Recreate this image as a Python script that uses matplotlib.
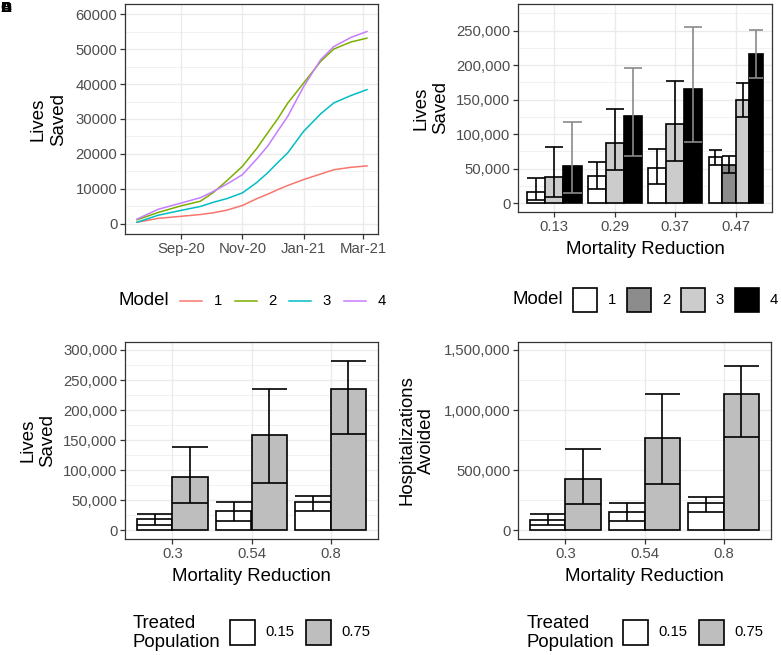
import numpy as np
import matplotlib
matplotlib.use("Agg")
import matplotlib.pyplot as plt
import matplotlib.dates as mdates
from matplotlib.ticker import MultipleLocator, FuncFormatter
from matplotlib.patches import Rectangle
from matplotlib.lines import Line2D

plt.rcParams['font.family'] = ['Liberation Sans', 'DejaVu Sans']

# ---- data ----
# panel A: cumulative lives saved over time
dates = np.array(['2020-07-19', '2020-08-09', '2020-09-01', '2020-09-20', '2020-10-03',
                  '2020-10-17', '2020-11-01', '2020-11-15', '2020-11-26', '2020-12-06',
                  '2020-12-16', '2021-01-01', '2021-01-18', '2021-01-31', '2021-02-17',
                  '2021-03-05'], dtype='datetime64[D]')
model1 = [500, 1600, 2200, 2700, 3200, 4000, 5300, 7200, 8500, 9800, 11000, 12700, 14300, 15500, 16200, 16600]
model2 = [1200, 3300, 5200, 6500, 9000, 12500, 16500, 21500, 26000, 30000, 34500, 40300, 46500, 50000, 52000, 53100]
model3 = [500, 2500, 3900, 5000, 6200, 7300, 8900, 11800, 14600, 17500, 20300, 26500, 31500, 34600, 36700, 38400]
model4 = [1400, 4200, 6000, 7500, 9300, 11500, 14100, 18500, 22200, 26500, 30700, 39300, 47000, 50700, 53300, 55000]
models = ['1', '2', '3', '4']
line_colors = ['#F8766D', '#7CAE00', '#00BFC4', '#C77CFF']

# panel B: lives saved by model and mortality reduction (None = not estimated)
mr_b = ['0.13', '0.29', '0.37', '0.47']
b_val = {'1': [16400, 38700, 50300, 66300],
         '2': [None, None, None, 55600],
         '3': [37700, 87000, 114100, 149400],
         '4': [54200, 126200, 165900, 216700]}
b_lo = {'1': [3900, 20800, 27100, 54600],
        '2': [None, None, None, 43000],
        '3': [8200, 47900, 60900, 125200],
        '4': [14000, 68700, 88500, 181800]}
b_hi = {'1': [36300, 60000, 78800, 77400],
        '2': [None, None, None, 68700],
        '3': [81700, 135900, 177000, 174600],
        '4': [118000, 196300, 255800, 251000]}
model_fill = ['white', '#8C8C8C', '#CCCCCC', 'black']
model_err = ['black', 'black', 'black', '#8A8A8A']

# panels C and D: by treated population share
mr_cd = ['0.3', '0.54', '0.8']
treated = ['0.15', '0.75']
lives_val = [[18300, 31600, 46600], [88700, 158600, 234600]]
lives_lo = [[8900, 15500, 32200], [44900, 79300, 159700]]
lives_hi = [[27700, 47100, 57100], [138600, 234600, 282200]]
hosp_val = [[83200, 152500, 227400], [429800, 768100, 1136900]]
hosp_lo = [[44400, 77600, 155300], [219100, 382700, 776400]]
hosp_hi = [[135900, 224600, 277300], [673800, 1136900, 1367100]]
treated_fill = ['white', '#BEBEBE']

W, H = 781, 655
TICK = 10.7
TITLE = 13.4

fig = plt.figure(figsize=(W / 100, H / 100), dpi=100)


def add_ax(l, t, r, b):
    return fig.add_axes([l / W, 1 - b / H, (r - l) / W, (b - t) / H])


def style(ax, ymajor, yminor, comma=True):
    for s in ax.spines.values():
        s.set_color('#333333')
        s.set_linewidth(0.9)
    ax.yaxis.set_major_locator(MultipleLocator(ymajor))
    ax.yaxis.set_minor_locator(MultipleLocator(yminor))
    if comma:
        ax.yaxis.set_major_formatter(FuncFormatter(lambda v, p: f'{v:,.0f}'))
    ax.grid(True, which='major', color='#EBEBEB', linewidth=1.0)
    ax.grid(True, which='minor', axis='y', color='#EBEBEB', linewidth=0.5)
    ax.tick_params(which='major', color='#333333', length=3.5, width=0.9,
                   labelcolor='#4D4D4D', labelsize=TICK, pad=2)
    ax.tick_params(which='minor', length=0)
    ax.set_axisbelow(True)


def ylab(ax, text, x):
    ax.set_ylabel(text, fontsize=TITLE, multialignment='center')
    ax.yaxis.label.set_linespacing(1.22)
    ax.yaxis.set_label_coords(x, 0.5)


def xlab(ax, text, y):
    ax.set_xlabel(text, fontsize=TITLE)
    ax.xaxis.set_label_coords(0.5, y)


def err(ax, x, w, lo, hi, color):
    ax.vlines(x, lo, hi, color=color, linewidth=1.2, zorder=4)
    ax.hlines([lo, hi], x - w / 2, x + w / 2, color=color, linewidth=1.2, zorder=4)


# ---- panel A ----
axA = add_ax(125, 4, 378, 234)
style(axA, 10000, 5000, comma=False)
for vals, c in zip([model1, model2, model3, model4], line_colors):
    axA.plot(dates, vals, color=c, linewidth=1.1)
axA.xaxis.set_major_locator(mdates.MonthLocator(bymonth=[1, 3, 9, 11]))
axA.xaxis.set_major_formatter(mdates.DateFormatter('%b-%y'))
axA.set_xlim(np.datetime64('2020-07-07'), np.datetime64('2021-03-16'))
axA.set_ylim(-2860, 62860)
ylab(axA, 'Lives\nSaved', -0.23)

# ---- panel B ----
axB = add_ax(518, 4, 772, 212)
style(axB, 50000, 25000)
for g in range(len(mr_b)):
    present = [m for m in models if b_val[m][g] is not None]
    w = 0.9 / len(present)
    for k, m in enumerate(present):
        i = models.index(m)
        x = g + 1 - 0.45 + w * (k + 0.5)
        axB.bar(x, b_val[m][g], width=w, color=model_fill[i], edgecolor='black',
                linewidth=1.2, zorder=3)
        err(axB, x, w, b_lo[m][g], b_hi[m][g], model_err[i])
axB.set_xticks(range(1, len(mr_b) + 1))
axB.set_xticklabels(mr_b)
axB.set_xlim(0.4, 4.6)
axB.set_ylim(-13056, 288700)
ylab(axB, 'Lives\nSaved', -0.27)
xlab(axB, 'Mortality Reduction', -0.14)


# ---- panels C and D ----
def grouped(ax, vals, lo, hi):
    w = 0.45
    for t in range(len(treated)):
        for g in range(len(mr_cd)):
            x = g + 1 - 0.45 + w * (t + 0.5)
            ax.bar(x, vals[t][g], width=w, color=treated_fill[t], edgecolor='black',
                   linewidth=1.2, zorder=3)
            err(ax, x, w, lo[t][g], hi[t][g], 'black')
    ax.set_xticks(range(1, len(mr_cd) + 1))
    ax.set_xticklabels(mr_cd)
    ax.set_xlim(0.4, 3.6)


axC = add_ax(125, 342, 378, 539)
style(axC, 50000, 25000)
grouped(axC, lives_val, lives_lo, lives_hi)
axC.set_ylim(-14500, 313300)
ylab(axC, 'Lives\nSaved', -0.273)
xlab(axC, 'Mortality Reduction', -0.145)

axD = add_ax(518, 342, 771, 539)
style(axD, 500000, 250000)
grouped(axD, hosp_val, hosp_lo, hosp_hi)
axD.set_ylim(-72400, 1566500)
ylab(axD, 'Hospitalizations\nAvoided', -0.327)
xlab(axD, 'Mortality Reduction', -0.145)


# ---- legends (pixel positions) ----
def ftext(x, y, s, size, **kw):
    fig.text(x / W, 1 - y / H, s, fontsize=size, va='center', **kw)


def fbox(l, t, size, fc):
    fig.add_artist(Rectangle((l / W, 1 - (t + size) / H), size / W, size / H,
                             transform=fig.transFigure, facecolor=fc,
                             edgecolor='black', linewidth=1.2))


ftext(118, 301, 'Model', TITLE)
for k, (m, c) in enumerate(zip(models, line_colors)):
    x0 = 180 + k * 54.5
    fig.add_artist(Line2D([x0 / W, (x0 + 22) / W], [1 - 301 / H] * 2,
                          transform=fig.transFigure, color=c, linewidth=1.1))
    ftext(x0 + 38, 301, m, TICK, ha='center')

ftext(513, 300, 'Model', TITLE)
for k, m in enumerate(models):
    x0 = 573 + k * 54
    fbox(x0, 288, 24, model_fill[k])
    ftext(x0 + 39, 300, m, TICK, ha='center')

for lx, bx in [(133, 230), (527, 623)]:
    ftext(lx, 633, 'Treated\nPopulation', TITLE, linespacing=1.15)
    for k, t in enumerate(treated):
        x0 = bx + k * 76
        fbox(x0, 620, 25, treated_fill[k])
        ftext(x0 + 35, 632, t, TICK)

# overlapping panel tags
for tag in ['A', 'B', 'C', 'D']:
    fig.text(0.5 / W, 1 - 1 / H, tag, fontsize=11, fontweight='bold', va='top', ha='left')

fig.savefig('out.png', dpi=100)
